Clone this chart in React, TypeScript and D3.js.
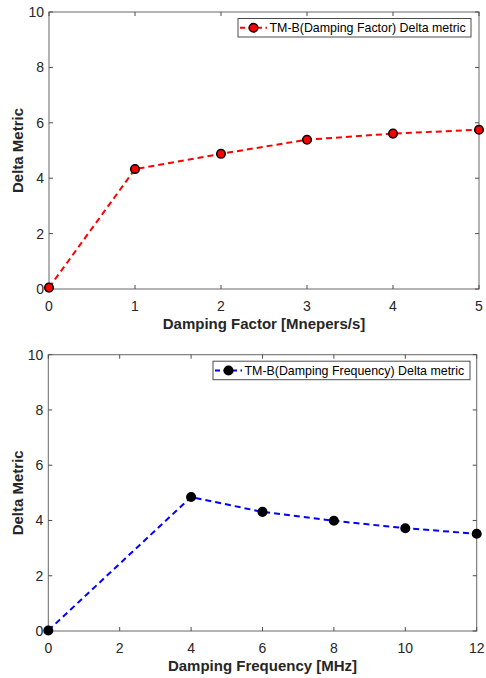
import React from "react";
import * as d3 from "d3";

// Damping factor sweep
const factorX = [0, 1, 2, 3, 4, 5];
const factorY = [0.05, 4.33, 4.88, 5.39, 5.61, 5.75];
const factorTicks = [0, 1, 2, 3, 4, 5];

// Damping frequency sweep
const freqX = [0, 4, 6, 8, 10, 12];
const freqY = [0.02, 4.85, 4.31, 3.99, 3.72, 3.52];
const freqTicks = [0, 2, 4, 6, 8, 10, 12];

const yTicks = [0, 2, 4, 6, 8, 10];

const FONT = "Liberation Sans, Arial, Helvetica, sans-serif";
const AXIS = "#4d4d4d";
const TEXT = "#262626";

type PanelProps = {
  xs: number[];
  ys: number[];
  xTicks: number[];
  xDomain: [number, number];
  left: number;
  right: number;
  top: number;
  bottom: number;
  xLabel: string;
  legend: string;
  lineColor: string;
  markerFill: string;
  legendX: number;
  legendW: number;
};

function Panel(p: PanelProps) {
  const x = d3.scaleLinear().domain(p.xDomain).range([p.left, p.right]);
  const y = d3.scaleLinear().domain([0, 10]).range([p.bottom, p.top]);
  const line = d3
    .line<number>()
    .x((_, i) => x(p.xs[i]))
    .y((d) => y(d));
  const tl = 4;
  const legendY = p.top + 6.5;
  const legendH = 18.5;
  const ly = legendY + legendH / 2;
  return (
    <g>
      {/* Box */}
      <rect
        x={p.left}
        y={p.top}
        width={p.right - p.left}
        height={p.bottom - p.top}
        fill="white"
        stroke={AXIS}
        strokeWidth={1}
        opacity={0.85}
      />
      {/* X ticks (bottom and top, inward) */}
      {p.xTicks.map((t) => (
        <g key={"x" + t}>
          <line x1={x(t)} x2={x(t)} y1={p.bottom} y2={p.bottom - tl} stroke={AXIS} />
          <line x1={x(t)} x2={x(t)} y1={p.top} y2={p.top + tl} stroke={AXIS} />
          <text
            x={x(t)}
            y={p.bottom + 21.5}
            textAnchor="middle"
            fontFamily={FONT}
            fontSize={14}
            fill={TEXT}
          >
            {t}
          </text>
        </g>
      ))}
      {/* Y ticks (left and right, inward) */}
      {yTicks.map((t) => (
        <g key={"y" + t}>
          <line x1={p.left} x2={p.left + tl} y1={y(t)} y2={y(t)} stroke={AXIS} />
          <line x1={p.right} x2={p.right - tl} y1={y(t)} y2={y(t)} stroke={AXIS} />
          <text
            x={p.left - 5}
            y={y(t) + 5}
            textAnchor="end"
            fontFamily={FONT}
            fontSize={14}
            fill={TEXT}
          >
            {t}
          </text>
        </g>
      ))}
      {/* Axis labels */}
      <text
        x={(p.left + p.right) / 2}
        y={p.bottom + 40}
        textAnchor="middle"
        fontFamily={FONT}
        fontSize={15}
        fontWeight="bold"
        fill={TEXT}
      >
        {p.xLabel}
      </text>
      <text
        transform={`translate(22.5,${(p.top + p.bottom) / 2}) rotate(-90)`}
        textAnchor="middle"
        fontFamily={FONT}
        fontSize={15}
        fontWeight="bold"
        fill={TEXT}
      >
        Delta Metric
      </text>
      {/* Series */}
      <path
        d={line(p.ys) || ""}
        fill="none"
        stroke={p.lineColor}
        strokeWidth={2}
        strokeDasharray="6,4"
      />
      {p.ys.map((v, i) => (
        <circle
          key={"m" + i}
          cx={x(p.xs[i])}
          cy={y(v)}
          r={4.3}
          fill={p.markerFill}
          stroke="black"
          strokeWidth={1.5}
        />
      ))}
      {/* Legend */}
      <rect
        x={p.legendX}
        y={legendY}
        width={p.legendW}
        height={legendH}
        fill="white"
        stroke={AXIS}
        strokeWidth={1}
      />
      <line
        x1={p.legendX + 2}
        x2={p.legendX + 29}
        y1={ly}
        y2={ly}
        stroke={p.lineColor}
        strokeWidth={2}
        strokeDasharray="5,3.5"
      />
      <circle
        cx={p.legendX + 15.5}
        cy={ly}
        r={4.3}
        fill={p.markerFill}
        stroke="black"
        strokeWidth={1.5}
      />
      <text
        x={p.legendX + 31.5}
        y={ly + 4.5}
        fontFamily={FONT}
        fontSize={12.4}
        fill="black"
      >
        {p.legend}
      </text>
    </g>
  );
}

export default function App() {
  return (
    <svg
      width={486}
      height={678}
      style={{ position: "absolute", left: 0, top: 0, background: "white" }}
    >
      <rect x={0} y={0} width={486} height={678} fill="white" />
      <Panel
        xs={factorX}
        ys={factorY}
        xTicks={factorTicks}
        xDomain={[0, 5]}
        left={49}
        right={479}
        top={12}
        bottom={289}
        xLabel="Damping Factor [Mnepers/s]"
        legend="TM-B(Damping Factor) Delta metric"
        lineColor="#ff0000"
        markerFill="#ff0000"
        legendX={238}
        legendW={233}
      />
      <Panel
        xs={freqX}
        ys={freqY}
        xTicks={freqTicks}
        xDomain={[0, 12]}
        left={48.3}
        right={476.7}
        top={354.7}
        bottom={631}
        xLabel="Damping Frequency [MHz]"
        legend="TM-B(Damping Frequency) Delta metric"
        lineColor="#0000ff"
        markerFill="#000000"
        legendX={213}
        legendW={257}
      />
    </svg>
  );
}
